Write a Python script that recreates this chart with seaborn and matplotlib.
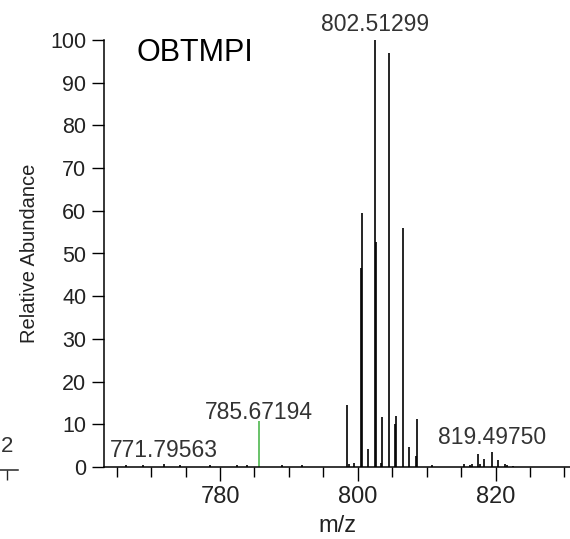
import numpy as np
import pandas as pd
import matplotlib
matplotlib.use('Agg')
import matplotlib.pyplot as plt
from matplotlib.ticker import MultipleLocator
import seaborn as sns

# peak list (m/z, relative abundance)
peak_mz = [766.4, 768.8, 771.80, 774.2, 778.5, 782.4, 783.9, 789.0, 791.9,
           798.5, 798.7, 799.4, 800.4, 800.55, 801.5, 802.51, 802.7,
           803.4, 803.5, 804.5, 805.4, 805.55, 806.5, 807.4, 808.4, 808.55,
           810.8, 815.4, 816.3, 816.6, 817.5, 817.8, 818.3, 819.50, 820.4,
           821.3, 821.6, 822.5]
peak_int = [0.5, 0.4, 0.8, 0.4, 0.5, 0.4, 0.4, 0.5, 0.4,
            14.5, 0.8, 1.0, 46.5, 59.5, 4.2, 100.0, 52.8,
            1.0, 11.6, 96.9, 10.1, 12.0, 56.0, 4.6, 2.6, 11.2,
            0.5, 0.7, 0.5, 0.8, 3.1, 0.8, 1.9, 3.4, 1.6,
            0.7, 0.5, 0.3]

# lock mass peak drawn in green
lock_mz = [785.67]
lock_int = [10.8]

# labelled peaks
label_mz = [771.80, 785.67, 802.51, 819.50]
label_int = [0.8, 10.8, 100.0, 3.4]
label_txt = ['771.79563', '785.67194', '802.51299', '819.49750']
label_off = [4.5, 1.2, 6.5, 6.0]  # points above peak top

rows = []
for i, (mz, h) in enumerate(zip(peak_mz, peak_int)):
    rows.append((i, mz, 0.0, 'main'))
    rows.append((i, mz, h, 'main'))
for j, (mz, h) in enumerate(zip(lock_mz, lock_int)):
    rows.append((1000 + j, mz, 0.0, 'lock'))
    rows.append((1000 + j, mz, h, 'lock'))
df = pd.DataFrame(rows, columns=['peak', 'mz', 'abundance', 'group'])

sns.set_style('ticks')
plt.rcParams['font.family'] = ['Liberation Sans', 'DejaVu Sans']
plt.rcParams['lines.solid_capstyle'] = 'butt'

fig = plt.figure(figsize=(5.7, 5.39), dpi=100)
ax = fig.add_axes([104.3 / 570, 1 - 467 / 539, 1 - 104.3 / 570, 427 / 539])

sns.lineplot(data=df, x='mz', y='abundance', units='peak', estimator=None,
             hue='group', palette={'main': 'black', 'lock': '#4fb84f'},
             sort=False, lw=1.2, legend=False, ax=ax)

ax.set_xlim(763.2, 830.8)
ax.set_ylim(0, 100)
sns.despine(ax=ax)
for s in ['left', 'bottom']:
    ax.spines[s].set_linewidth(1.1)
    ax.spines[s].set_color('black')

ax.xaxis.set_major_locator(MultipleLocator(20))
ax.xaxis.set_minor_locator(MultipleLocator(5))
ax.yaxis.set_major_locator(MultipleLocator(10))
ax.tick_params(axis='x', which='major', length=10, width=1.0, pad=4,
               labelsize=17, labelcolor='#222222', color='black')
ax.tick_params(axis='x', which='minor', length=7, width=1.0, color='black')
ax.tick_params(axis='y', which='major', length=8.6, width=1.0, pad=4.3,
               labelsize=15.5, labelcolor='#222222', color='black')

ax.set_xlabel('m/z', fontsize=17, color='#222222', labelpad=4.5)
ax.set_ylabel('Relative Abundance', fontsize=14.5, color='#222222', labelpad=8)

for mz, h, t, off in zip(label_mz, label_int, label_txt, label_off):
    ax.annotate(t, (mz, h), xytext=(0, off), textcoords='offset points',
                ha='center', va='baseline', fontsize=16.5, color='#333333',
                annotation_clip=False)

ax.text(0.0696, 0.951, 'OBTMPI', transform=ax.transAxes, fontsize=22,
        ha='left', va='baseline', color='black')

# edge of the neighbouring panel, cut off by the crop
ax0 = fig.add_axes([-0.2, 1 - 470 / 539, 0.2 + 18 / 570, 0.2])
ax0.set_xlim(0, 1)
ax0.set_ylim(0, 1)
for s in ['left', 'top', 'right']:
    ax0.spines[s].set_visible(False)
ax0.spines['bottom'].set_linewidth(1.1)
ax0.set_yticks([])
ax0.set_xticks([(6.7 / 570 + 0.2) / (0.2 + 18 / 570)])
ax0.set_xticklabels([])
ax0.tick_params(axis='x', length=7, width=1.0)
ax0.patch.set_alpha(0)
fig.text(0.5 / 570, 1 - 452 / 539, '2', ha='left', va='baseline',
         fontsize=16, color='#333333')

fig.savefig('out.png', dpi=100)
